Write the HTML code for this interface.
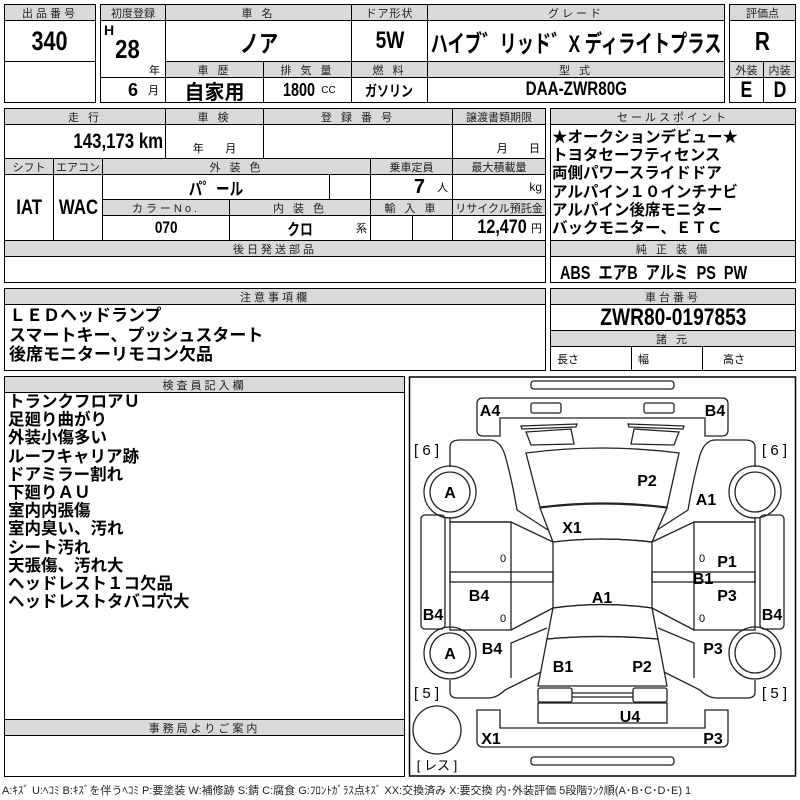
<!DOCTYPE html>
<html><head><meta charset="utf-8"><style>
body{margin:0;width:800px;height:800px;background:#fff;position:relative;overflow:hidden;font-family:"Liberation Sans","Noto Sans CJK JP",sans-serif;color:#000}
.c{position:absolute;box-sizing:border-box;border:1px solid #000;display:flex;align-items:center;justify-content:center;white-space:nowrap}
.h{background:#d9d9d9;font-size:11px;letter-spacing:3px;color:#222;overflow:hidden}
.b{position:absolute;box-sizing:border-box;border:1.5px solid #000}
.v{font-weight:bold;transform:scaleX(0.8);flex-shrink:0}
.t{position:absolute;font-weight:bold;white-space:nowrap}
</style></head><body>

<!-- box 1 -->
<div class="b" style="left:4px;top:4px;width:92px;height:99px"></div>
<div class="c h" style="left:4px;top:4px;width:92px;height:17px">出品番号</div>
<div class="c" style="left:4px;top:20px;width:92px;height:42px;font-size:27px"><span class="v">340</span></div>

<!-- box 2 -->
<div class="b" style="left:100px;top:4px;width:625px;height:99px"></div>
<div class="c h" style="left:100px;top:4px;width:66px;height:17px;letter-spacing:0">初度登録</div>
<div class="c h" style="left:165px;top:4px;width:187px;height:17px">車 名</div>
<div class="c h" style="left:351px;top:4px;width:77px;height:17px;letter-spacing:1px">ドア形状</div>
<div class="c h" style="left:427px;top:4px;width:298px;height:17px">グレード</div>
<div class="c" style="left:100px;top:20px;width:66px;height:58px"></div>
<div class="t" style="left:104px;top:22px;font-size:14px">H</div>
<div class="t" style="left:113px;top:34px;font-size:26px;transform:scaleX(.85)">28</div>
<div style="position:absolute;left:149px;top:62px;font-size:11px">年</div>
<div class="c" style="left:165px;top:20px;width:187px;height:42px;font-size:24px"><span class="v">ノア</span></div>
<div class="c" style="left:351px;top:20px;width:77px;height:42px;font-size:24px"><span class="v">5W</span></div>
<div class="c" style="left:427px;top:20px;width:298px;height:42px;font-size:24px"><span class="v" style="transform:scaleX(.72)">ハイブ゛リッド゛X ディライトプラス</span></div>
<div class="c h" style="left:165px;top:61px;width:99px;height:17px">車 歴</div>
<div class="c h" style="left:263px;top:61px;width:89px;height:17px">排 気 量</div>
<div class="c h" style="left:351px;top:61px;width:77px;height:17px">燃 料</div>
<div class="c h" style="left:427px;top:61px;width:298px;height:17px">型 式</div>
<div class="c" style="left:100px;top:77px;width:66px;height:26px;justify-content:flex-end;padding-right:6px;font-size:11px"><b style="font-size:18px;margin-right:10px">6</b>月</div>
<div class="c" style="left:165px;top:77px;width:99px;height:26px;font-size:20px"><b>自家用</b></div>
<div class="c" style="left:263px;top:77px;width:89px;height:26px;font-size:18px"><span class="v">1800</span><span style="font-size:10px;margin-left:2px">CC</span></div>
<div class="c" style="left:351px;top:77px;width:77px;height:26px;font-size:15px"><span class="v">ガソリン</span></div>
<div class="c" style="left:427px;top:77px;width:298px;height:26px;font-size:19px"><span class="v">DAA-ZWR80G</span></div>

<!-- box 3 -->
<div class="b" style="left:729px;top:4px;width:67px;height:99px"></div>
<div class="c h" style="left:729px;top:4px;width:67px;height:17px;letter-spacing:0">評価点</div>
<div class="c" style="left:729px;top:20px;width:67px;height:42px;font-size:26px"><span class="v">R</span></div>
<div class="c h" style="left:729px;top:61px;width:35px;height:17px;letter-spacing:0">外装</div>
<div class="c h" style="left:763px;top:61px;width:33px;height:17px;letter-spacing:0">内装</div>
<div class="c" style="left:729px;top:77px;width:35px;height:26px;font-size:22px"><span class="v">E</span></div>
<div class="c" style="left:763px;top:77px;width:33px;height:26px;font-size:22px"><span class="v">D</span></div>

<!-- section 2 -->
<div class="b" style="left:4px;top:108px;width:542px;height:175px"></div>
<div class="c h" style="left:4px;top:108px;width:162px;height:17px">走 行</div>
<div class="c h" style="left:165px;top:108px;width:99px;height:17px">車 検</div>
<div class="c h" style="left:263px;top:108px;width:190px;height:17px">登 録 番 号</div>
<div class="c h" style="left:452px;top:108px;width:94px;height:17px;letter-spacing:0">譲渡書類期限</div>
<div class="c" style="left:4px;top:124px;width:162px;height:35px;justify-content:flex-end;padding-right:2px;font-size:21px"><span class="v" style="transform-origin:right">143,173 km</span></div>
<div class="c" style="left:165px;top:124px;width:99px;height:35px;align-items:flex-end;font-size:11px;padding-bottom:2px">年&nbsp;&nbsp;&nbsp;&nbsp;&nbsp;&nbsp;&nbsp;月</div>
<div class="c" style="left:263px;top:124px;width:190px;height:35px"></div>
<div class="c" style="left:452px;top:124px;width:94px;height:35px;align-items:flex-end;font-size:11px;padding-bottom:2px;justify-content:flex-end;padding-right:5px">月&nbsp;&nbsp;&nbsp;&nbsp;&nbsp;&nbsp;&nbsp;日</div>
<div class="c h" style="left:4px;top:158px;width:50px;height:17px;letter-spacing:0">シフト</div>
<div class="c h" style="left:53px;top:158px;width:50px;height:17px;letter-spacing:0">エアコン</div>
<div class="c h" style="left:102px;top:158px;width:269px;height:17px">外 装 色</div>
<div class="c h" style="left:370px;top:158px;width:83px;height:17px;letter-spacing:0">乗車定員</div>
<div class="c h" style="left:452px;top:158px;width:94px;height:17px;letter-spacing:0">最大積載量</div>
<div class="c" style="left:4px;top:174px;width:50px;height:67px;font-size:21px"><span class="v">IAT</span></div>
<div class="c" style="left:53px;top:174px;width:50px;height:67px;font-size:21px"><span class="v">WAC</span></div>
<div class="c" style="left:102px;top:174px;width:228px;height:26px;font-size:17px"><span class="v">パ゜ール</span></div>
<div class="c" style="left:329px;top:174px;width:42px;height:26px"></div>
<div class="c" style="left:370px;top:174px;width:83px;height:26px;justify-content:flex-end;padding-right:4px;font-size:11px"><b style="font-size:20px;margin-right:12px">7</b>人</div>
<div class="c" style="left:452px;top:174px;width:94px;height:26px;justify-content:flex-end;padding-right:3px;font-size:12px">kg</div>
<div class="c h" style="left:102px;top:199px;width:128px;height:17px">カラーNo.</div>
<div class="c h" style="left:229px;top:199px;width:142px;height:17px">内 装 色</div>
<div class="c h" style="left:370px;top:199px;width:83px;height:17px">輸 入 車</div>
<div class="c h" style="left:452px;top:199px;width:94px;height:17px;letter-spacing:0">リサイクル預託金</div>
<div class="c" style="left:102px;top:215px;width:128px;height:26px;font-size:17px"><span class="v">070</span></div>
<div class="c" style="left:229px;top:215px;width:142px;height:26px;font-size:16px"><span class="v">クロ</span><span style="position:absolute;right:3px;font-size:11px">系</span></div>
<div class="c" style="left:370px;top:215px;width:43px;height:26px"></div>
<div class="c" style="left:412px;top:215px;width:41px;height:26px"></div>
<div class="c" style="left:452px;top:215px;width:94px;height:26px;justify-content:flex-end;padding-right:3px;font-size:11px"><b style="font-size:19px;transform:scaleX(.85)">12,470</b>円</div>
<div class="c h" style="left:4px;top:240px;width:542px;height:17px">後日発送部品</div>

<!-- sales -->
<div class="b" style="left:550px;top:108px;width:246px;height:175px"></div>
<div class="c h" style="left:550px;top:108px;width:246px;height:17px">セールスポイント</div>
<div class="t" style="left:552px;top:129px;font-size:15.5px;line-height:18.2px">★オークションデビュー★<br>トヨタセーフティセンス<br>両側パワースライドドア<br>アルパイン１０インチナビ<br>アルパイン後席モニター<br>バックモニター、ＥＴＣ</div>
<div class="c h" style="left:550px;top:240px;width:246px;height:17px">純 正 装 備</div>
<div class="t" style="left:560px;top:259px;font-size:18px;transform:scaleX(.8);transform-origin:left">ABS&nbsp; エアB&nbsp; アルミ&nbsp; PS&nbsp; PW</div>

<!-- notes -->
<div class="b" style="left:4px;top:288px;width:542px;height:83px"></div>
<div class="c h" style="left:4px;top:288px;width:542px;height:17px">注意事項欄</div>
<div class="t" style="left:9px;top:306px;font-size:17px;line-height:19.5px">ＬＥＤヘッドランプ<br>スマートキー、プッシュスタート<br>後席モニターリモコン欠品</div>

<div class="b" style="left:550px;top:288px;width:246px;height:83px"></div>
<div class="c h" style="left:550px;top:288px;width:246px;height:17px">車台番号</div>
<div class="c" style="left:550px;top:304px;width:246px;height:27px;font-size:24px"><span class="v">ZWR80-0197853</span></div>
<div class="c h" style="left:550px;top:330px;width:246px;height:17px">諸 元</div>
<div class="c" style="left:550px;top:346px;width:82px;height:25px;justify-content:flex-start;padding-left:6px;font-size:11px">長さ</div>
<div class="c" style="left:631px;top:346px;width:72px;height:25px;justify-content:flex-start;padding-left:6px;font-size:11px">幅</div>
<div class="c" style="left:702px;top:346px;width:94px;height:25px;justify-content:flex-start;padding-left:20px;font-size:11px">高さ</div>

<!-- inspector -->
<div class="b" style="left:4px;top:376px;width:401px;height:401px"></div>
<div class="c h" style="left:4px;top:376px;width:401px;height:17px">検査員記入欄</div>
<div class="t" style="left:8px;top:393px;font-size:16.5px;line-height:18.2px">トランクフロアＵ<br>足廻り曲がり<br>外装小傷多い<br>ルーフキャリア跡<br>ドアミラー割れ<br>下廻りＡＵ<br>室内内張傷<br>室内臭い、汚れ<br>シート汚れ<br>天張傷、汚れ大<br>ヘッドレスト１コ欠品<br>ヘッドレストタバコ穴大</div>
<div class="c h" style="left:4px;top:719px;width:401px;height:17px">事務局よりご案内</div>

<!-- diagram -->
<svg style="position:absolute;left:0;top:0" width="800" height="800" viewBox="0 0 800 800">
<g fill="none" stroke="#222" stroke-width="1.3">
<rect x="409.5" y="377" width="386" height="399" stroke="#000" stroke-width="1.5"/>
<rect x="531" y="381" width="143" height="8" rx="3"/>
<rect x="531" y="757" width="143" height="8" rx="3"/>
<path d="M500 436 H483 Q477 436 477 430 V404 Q477 398 483 398 H722 Q728 398 728 404 V430 Q728 436 722 436 H705 V418 H500 Z"/>
<rect x="531" y="403" width="30" height="10" rx="2"/>
<rect x="644" y="403" width="30" height="10" rx="2"/>
<path d="M477 710 H500 V728 H705 V710 H728 V741 Q728 747 722 747 H483 Q477 747 477 741 Z"/>
<path d="M521 426 L577 424 L576 427 L522 429 Z"/>
<path d="M526 432 L571 429 L574 444 L531 445 Z"/>
<path d="M684 426 L628 424 L629 427 L683 429 Z"/>
<path d="M679 432 L634 429 L631 444 L674 445 Z"/>
<path d="M526 453 Q602 443 679 453 L667 507 Q602 499 540 507 Z"/>
<path d="M540 508 Q602 500 667 508 L652 542 Q602 536 553 542 Z"/>
<path d="M553 542 Q602 536 652 542 V608 Q602 601 553 608 Z"/>
<path d="M553 608 Q602 601 652 608 L658 639 Q602 634 547 639 Z"/>
<path d="M547 639 Q602 634 658 639 L667 686 H538 Z"/>
<rect x="538" y="688" width="34" height="14" rx="2"/>
<rect x="633" y="688" width="34" height="14" rx="2"/>
<line x1="572" y1="693" x2="633" y2="693"/>
<line x1="572" y1="697" x2="633" y2="697"/>
<rect x="538" y="703" width="129" height="20"/>
<circle cx="437" cy="730" r="24"/>
<g id="side">
<path d="M450 467 V447 Q450 440 460 440 H490 Q500 440 505 455 Q512 480 517 510 L548 530"/>
<path d="M450 517 V522 H511 L553 542"/>
<rect x="450" y="522" width="61" height="108"/>
<rect x="450" y="572" width="103" height="10"/>
<line x1="511" y1="630" x2="553" y2="608"/>
<rect x="421" y="515" width="24" height="114" rx="4"/>
<circle cx="450" cy="492" r="26"/><circle cx="450" cy="492" r="20"/>
<circle cx="450" cy="653" r="26"/><circle cx="450" cy="653" r="20"/>
<path d="M511 678 V643 L547 628"/>
<path d="M450 680 V692 Q450 698 458 698 H488 Q497 698 505 690 L541 672"/>
</g>
<use href="#side" transform="translate(1205 0) scale(-1 1)"/>
</g>
<g font-family="Liberation Sans,sans-serif" font-size="15" fill="#000">
<text x="414" y="455">[ 6 ]</text><text x="762" y="455">[ 6 ]</text>
<text x="414" y="698">[ 5 ]</text><text x="762" y="698">[ 5 ]</text>
</g>
<g font-family="Liberation Sans,sans-serif" font-weight="bold" font-size="16" fill="#000" text-anchor="middle">
<text x="490" y="416">A4</text><text x="715" y="416">B4</text>
<text x="450" y="498">A</text><text x="647" y="486">P2</text><text x="706" y="505">A1</text>
<text x="572" y="533">X1</text><text x="727" y="567">P1</text><text x="703" y="584">B1</text>
<text x="727" y="601">P3</text><text x="602" y="603">A1</text><text x="479" y="601">B4</text>
<text x="433" y="620">B4</text><text x="772" y="620">B4</text>
<text x="450" y="659">A</text><text x="492" y="654">B4</text><text x="563" y="672">B1</text>
<text x="642" y="672">P2</text><text x="713" y="654">P3</text><text x="630" y="722">U4</text>
<text x="491" y="744">X1</text><text x="713" y="744">P3</text>
<g font-weight="normal" font-size="11"><text x="503" y="562">0</text><text x="503" y="622">0</text><text x="702" y="562">0</text><text x="702" y="622">0</text></g>
<text x="437" y="770" font-size="13" font-weight="normal" font-family="Liberation Sans,Noto Sans CJK JP,sans-serif">[ レス ]</text>
</g>
</svg>
<div style="position:absolute;left:2px;top:782px;font-size:11px;white-space:nowrap;color:#222">A:ｷｽﾞ U:ﾍｺﾐ B:ｷｽﾞを伴うﾍｺﾐ P:要塗装 W:補修跡 S:錆 C:腐食 G:ﾌﾛﾝﾄｶﾞﾗｽ点ｷｽﾞ XX:交換済み X:要交換 内･外装評価 5段階ﾗﾝｸ順(A･B･C･D･E) 1</div>
</body></html>
